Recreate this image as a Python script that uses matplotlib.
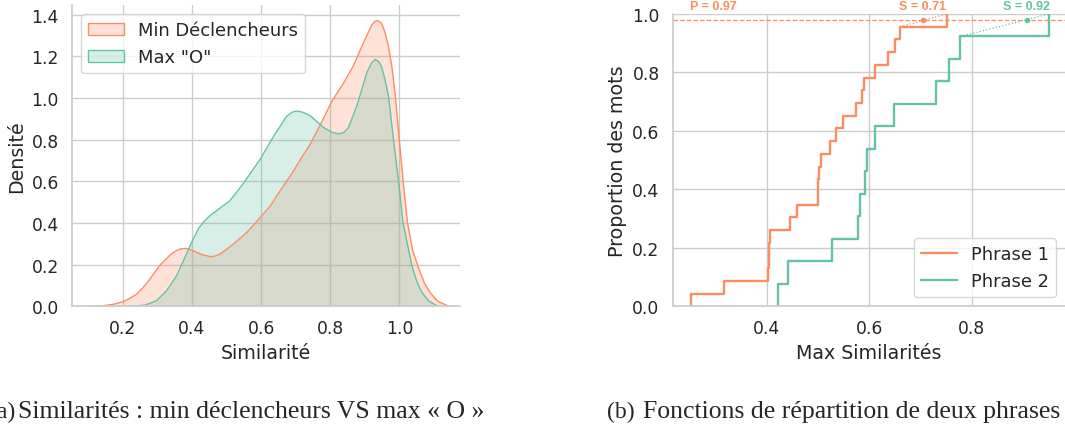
import numpy as np
import matplotlib
matplotlib.use('Agg')
import matplotlib.pyplot as plt
import seaborn as sns
from matplotlib.patches import Patch

sns.set_theme(style='whitegrid')
plt.rcParams['font.family'] = ['DejaVu Sans']

orange = '#fc8d62'
green = '#66c2a5'

# courbes de densité (x, densité)
min_x = [0.105, 0.144, 0.175, 0.200, 0.221, 0.241, 0.260, 0.279, 0.308, 0.337,
         0.352, 0.366, 0.385, 0.404, 0.420, 0.433, 0.455, 0.470, 0.481, 0.500,
         0.520, 0.559, 0.597, 0.626, 0.655, 0.690, 0.713, 0.741, 0.771, 0.805,
         0.838, 0.867, 0.896, 0.910, 0.920, 0.928, 0.935, 0.942, 0.949, 0.958,
         0.968, 0.978, 0.988, 1.002, 1.013, 1.023, 1.038, 1.055, 1.072, 1.089,
         1.110, 1.137, 1.150]
min_y = [0.000, 0.003, 0.010, 0.022, 0.038, 0.059, 0.092, 0.131, 0.198, 0.246,
         0.264, 0.275, 0.278, 0.267, 0.254, 0.246, 0.238, 0.242, 0.251, 0.273,
         0.299, 0.355, 0.425, 0.480, 0.555, 0.640, 0.703, 0.775, 0.870, 0.985,
         1.070, 1.155, 1.265, 1.315, 1.350, 1.366, 1.371, 1.367, 1.355, 1.315,
         1.251, 1.150, 1.011, 0.755, 0.560, 0.403, 0.270, 0.185, 0.112, 0.065,
         0.025, 0.004, 0.000]

max_x = [0.210, 0.240, 0.265, 0.298, 0.327, 0.356, 0.380, 0.404, 0.420, 0.433,
         0.452, 0.472, 0.510, 0.549, 0.597, 0.636, 0.674, 0.690, 0.703, 0.720,
         0.742, 0.780, 0.805, 0.824, 0.840, 0.853, 0.877, 0.906, 0.920, 0.930,
         0.940, 0.949, 0.958, 0.968, 0.986, 1.000, 1.010, 1.036, 1.050, 1.065,
         1.085, 1.108, 1.120]
max_y = [0.000, 0.002, 0.006, 0.027, 0.075, 0.147, 0.235, 0.323, 0.375, 0.403,
         0.435, 0.459, 0.507, 0.590, 0.705, 0.815, 0.912, 0.932, 0.937, 0.932,
         0.915, 0.859, 0.835, 0.827, 0.835, 0.859, 0.963, 1.123, 1.170, 1.184,
         1.175, 1.147, 1.090, 1.011, 0.755, 0.560, 0.403, 0.195, 0.120, 0.067,
         0.025, 0.003, 0.000]

# max similarités par mot
phrase1 = [0.2517, 0.3167, 0.403, 0.404, 0.405, 0.406, 0.4455, 0.4585, 0.4995,
           0.5008, 0.5028, 0.5054, 0.5235, 0.5346, 0.549, 0.5742, 0.5866, 0.5898,
           0.6113, 0.636, 0.6497, 0.660, 0.751]
phrase2 = [0.4227, 0.441, 0.528, 0.5788, 0.5814, 0.5912, 0.595, 0.6113, 0.6484,
           0.7297, 0.7564, 0.7779, 0.9508]

p_level = 0.98
s_points = [0.704, 0.907]
s_labels = ['S = 0.71', 'S = 0.92']

fig = plt.figure(figsize=(10.65, 4.27), dpi=100)

# (a) densités
ax1 = fig.add_axes([72/1065, 1-307.3/427, 388/1065, 301.3/427])
ax1.fill_between(min_x, min_y, color=orange, alpha=0.25, lw=0)
ax1.plot(min_x, min_y, color=orange, lw=1)
ax1.fill_between(max_x, max_y, color=green, alpha=0.25, lw=0)
ax1.plot(max_x, max_y, color=green, lw=1)
ax1.set_xlim(0.0535, 1.175)
ax1.set_ylim(0, 1.446)
ax1.set_xticks([0.2, 0.4, 0.6, 0.8, 1.0])
ax1.set_yticks(np.arange(0, 1.41, 0.2))
ax1.set_xlabel('Similarité', fontsize=13.7)
ax1.set_ylabel('Densité', fontsize=13.7)
ax1.tick_params(labelsize=12.3)
handles = [Patch(facecolor=matplotlib.colors.to_rgba(orange, 0.25), edgecolor=orange),
           Patch(facecolor=matplotlib.colors.to_rgba(green, 0.25), edgecolor=green)]
ax1.legend(handles, ['Min Déclencheurs', 'Max "O"'], loc='upper left', fontsize=12.9)

# (b) fonctions de répartition
ax2 = fig.add_axes([672.7/1065, 1-307.3/427, 392.3/1065, 292.3/427])
sns.ecdfplot(x=phrase1, ax=ax2, color=orange, lw=1.7, label='Phrase 1')
sns.ecdfplot(x=phrase2, ax=ax2, color=green, lw=1.7, label='Phrase 2')
ax2.axhline(p_level, color=orange, ls='--', lw=0.9)
for data, sx, lab, c in [(phrase1, s_points[0], s_labels[0], orange),
                          (phrase2, s_points[1], s_labels[1], green)]:
    n = len(data)
    ax2.plot([data[-2], data[-1]], [(n - 1) / n, 1.0], ls=':', lw=0.9, color=c)
    ax2.plot(sx, p_level, 'o', ms=3, color=c)
    ax2.text(sx, 1.006, lab, color=c, fontsize=9, fontweight='bold',
             family='Liberation Sans', ha='center', va='bottom', clip_on=False)
ax2.text(0.2507, 1.006, 'P = 0.97', color=orange, fontsize=9, fontweight='bold',
         family='Liberation Sans', ha='left', va='bottom', clip_on=False)
ax2.set_xlim(0.2166, 0.982)
ax2.set_ylim(0, 1.0)
ax2.set_xticks([0.4, 0.6, 0.8])
ax2.set_yticks(np.arange(0, 1.01, 0.2))
ax2.set_xlabel('Max Similarités', fontsize=13.7)
ax2.set_ylabel('Proportion des mots', fontsize=13.7)
ax2.tick_params(labelsize=12.3)
ax2.legend(loc='lower right', fontsize=12.9)

sns.despine(fig=fig)

# légendes des sous-figures
base = 9 / 427
fig.text(15/1065, base, '(a)', family='Liberation Serif', fontsize=17,
         ha='right', va='baseline')
fig.text(18/1065, base, 'Similarités : min déclencheurs VS max « O »',
         family='Liberation Serif', fontsize=18.5, ha='left', va='baseline')
fig.text(607/1065, base, '(b)', family='Liberation Serif', fontsize=17,
         ha='left', va='baseline')
fig.text(643/1065, base, 'Fonctions de répartition de deux phrases',
         family='Liberation Serif', fontsize=18.5, ha='left', va='baseline')

fig.savefig('out.png', dpi=100)
